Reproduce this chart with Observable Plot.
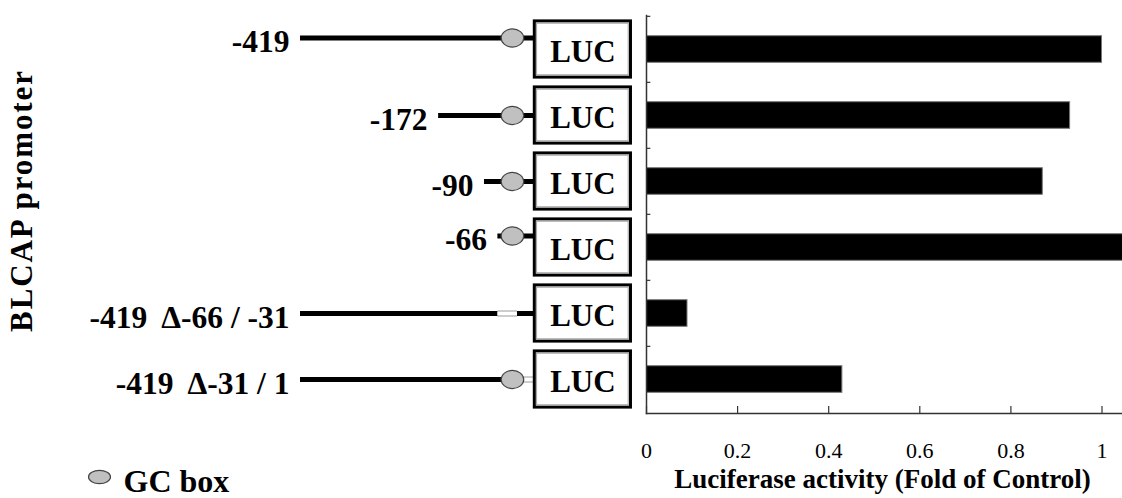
<!DOCTYPE html>
<html>
<head>
<meta charset="utf-8">
<script src="https://cdn.jsdelivr.net/npm/d3@7"></script>
<script src="https://cdn.jsdelivr.net/npm/@observablehq/plot@0.6"></script>
<style>
  html, body { margin: 0; padding: 0; background: #fff; overflow: hidden; }
  #chart { position: relative; width: 1122px; height: 498px; }
  #chart > div { position: absolute; top: 0; }
  .promoter-title text { letter-spacing: 1.9px; }
</style>
</head>
<body>
<div id="chart"><div id="constructs"></div><div id="activity"></div></div>
<script>
// BLCAP promoter deletion constructs and their luciferase reporter activity
const constructNames = ["-419", "-172", "-90", "-66", "-419  \u0394-66 / -31", "-419  \u0394-31 / 1"];
const constructStarts = [-419, -172, -90, -66, -419, -419];
const deletionStarts = [null, null, null, null, -66, -31];
const deletionEnds = [null, null, null, null, -31, 1];
const hasGCBox = [true, true, true, true, false, true];
const gcBoxPosition = -40;
const activity = [1.0, 0.93, 0.87, 1.06, 0.09, 0.43];
const activityTicks = [0, 0.2, 0.4, 0.6, 0.8, 1];

const rows = constructNames.map((name, i) => ({
  name,
  start: constructStarts[i],
  delStart: deletionStarts[i],
  delEnd: deletionEnds[i],
  gc: hasGCBox[i],
  activity: activity[i]
}));

const font = "'Liberation Serif', 'Times New Roman', Times, serif";
const H = 498, TOP = 15, BOTTOM = 413;
const step = (BOTTOM - TOP) / rows.length;
const yScale = {domain: constructNames, range: [TOP, BOTTOM], padding: 0, axis: null};

// GC box drawn as a flat ellipse
function ellipseSymbol(flatten) {
  return {
    draw(ctx, size) {
      const rx = Math.sqrt(size / Math.PI), ry = rx * flatten, k = 0.5523;
      ctx.moveTo(rx, 0);
      ctx.bezierCurveTo(rx, k * ry, k * rx, ry, 0, ry);
      ctx.bezierCurveTo(-k * rx, ry, -rx, k * ry, -rx, 0);
      ctx.bezierCurveTo(-rx, -k * ry, -k * rx, -ry, 0, -ry);
      ctx.bezierCurveTo(k * rx, -ry, rx, -k * ry, rx, 0);
      ctx.closePath();
    }
  };
}
const ellipse = ellipseSymbol(0.8);

// the full-length and minimal constructs are drawn a little above the box midline
const raised = new Set(["-419", "-66"]);

function promoterMarks(data, dy) {
  const deleted = data.filter(d => d.delStart != null);
  return [
    Plot.ruleY(data, {y: "name", x1: "start", x2: 0, stroke: "#000", strokeWidth: 5, dy}),
    Plot.ruleY(deleted, {y: "name", x1: "delStart", x2: "delEnd", stroke: "#9a9a9a", strokeWidth: 6, dy}),
    Plot.ruleY(deleted, {y: "name", x1: "delStart", x2: "delEnd", stroke: "#fff", strokeWidth: 4, dy}),
    Plot.dot(data.filter(d => d.gc), {x: gcBoxPosition, y: "name", symbol: ellipse, r: 11.3,
      fill: "#c0c0c0", stroke: "#444", strokeWidth: 1.2, dy}),
    Plot.text(data, {x: "start", y: "name", text: "name", textAnchor: "end", lineAnchor: "middle",
      dx: -11, dy: dy + 4, fontSize: 31.5, fontWeight: "bold", fill: "#000"})
  ];
}

const LUC_SPAN = 172; // reporter box length, in promoter units

const left = Plot.plot({
  width: 640, height: H,
  marginLeft: 300, marginRight: 105.7, marginTop: TOP, marginBottom: H - BOTTOM,
  style: {fontFamily: font, background: "transparent"},
  x: {domain: [-419, 0], range: [300, 534.3], axis: null},
  y: yScale,
  marks: [
    ...promoterMarks(rows.filter(d => raised.has(d.name)), -11.5),
    ...promoterMarks(rows.filter(d => !raised.has(d.name)), 0),
    Plot.barX(rows, {x1: 0, x2: LUC_SPAN, y: "name", insetTop: 4.9, insetBottom: 4.9,
      fill: "#fff", stroke: "#000", strokeWidth: 3}),
    Plot.barX(rows, {x1: 0, x2: LUC_SPAN, y: "name", insetTop: 7.2, insetBottom: 7.2,
      insetLeft: 2.3, insetRight: 2.3, fill: "none", stroke: "#a0a0a0", strokeWidth: 1}),
    Plot.text(rows, {x: LUC_SPAN / 2, y: "name", text: () => "LUC", lineAnchor: "middle", dy: 2.5,
      fontSize: 31, fontWeight: "bold", fill: "#000"}),
    // vertical title
    Plot.text(["BLCAP promoter"], {frameAnchor: "left", text: d => d, rotate: -90,
      textAnchor: "middle", lineAnchor: "middle", className: "promoter-title",
      dx: -278, dy: -14, fontSize: 31, fontWeight: "bold", fill: "#000"}),
    // legend
    Plot.dot([0], {frameAnchor: "bottom-left", dx: -201, dy: 63.5, symbol: ellipseSymbol(0.6), r: 11,
      fill: "#c0c0c0", stroke: "#444", strokeWidth: 1.2}),
    Plot.text(["GC box"], {frameAnchor: "bottom-left", text: d => d, textAnchor: "start", lineAnchor: "middle",
      dx: -177, dy: 68.5, fontSize: 32, fontWeight: "bold", fill: "#000"})
  ]
});
document.getElementById("constructs").appendChild(left);

const right = Plot.plot({
  width: 482, height: H,
  marginLeft: 6, marginRight: 0, marginTop: TOP, marginBottom: H - BOTTOM,
  style: {fontFamily: font, background: "transparent"},
  x: {domain: [0, 1.045]},
  y: yScale,
  marks: [
    Plot.barX(rows, {x: "activity", y: "name", insetTop: 19.7, insetBottom: 19.7,
      fill: "#000", stroke: "#777", strokeWidth: 1, clip: true}),
    Plot.ruleY(constructNames, {y: d => d, x1: 0, x2: 0.0095, dy: -step / 2, stroke: "#333", strokeWidth: 1.2}),
    Plot.ruleX(activityTicks, {x: d => d, insetTop: (BOTTOM - TOP) - 7, stroke: "#333", strokeWidth: 1.2}),
    Plot.frame({anchor: "left", stroke: "#333", strokeWidth: 1.5}),
    Plot.frame({anchor: "bottom", stroke: "#333", strokeWidth: 1.5}),
    Plot.axisX(activityTicks, {tickSize: 0, tickPadding: 29, fontSize: 22, label: null,
      tickFormat: d => String(d), fill: "#000"}),
    Plot.text(["Luciferase activity (Fold of Control)"], {frameAnchor: "bottom", text: d => d,
      lineAnchor: "middle", dx: -2, dy: 66, fontSize: 27, fontWeight: "bold", fill: "#000"})
  ]
});
document.getElementById("activity").appendChild(right);
document.getElementById("activity").style.left = "640px";
</script>
</body>
</html>
